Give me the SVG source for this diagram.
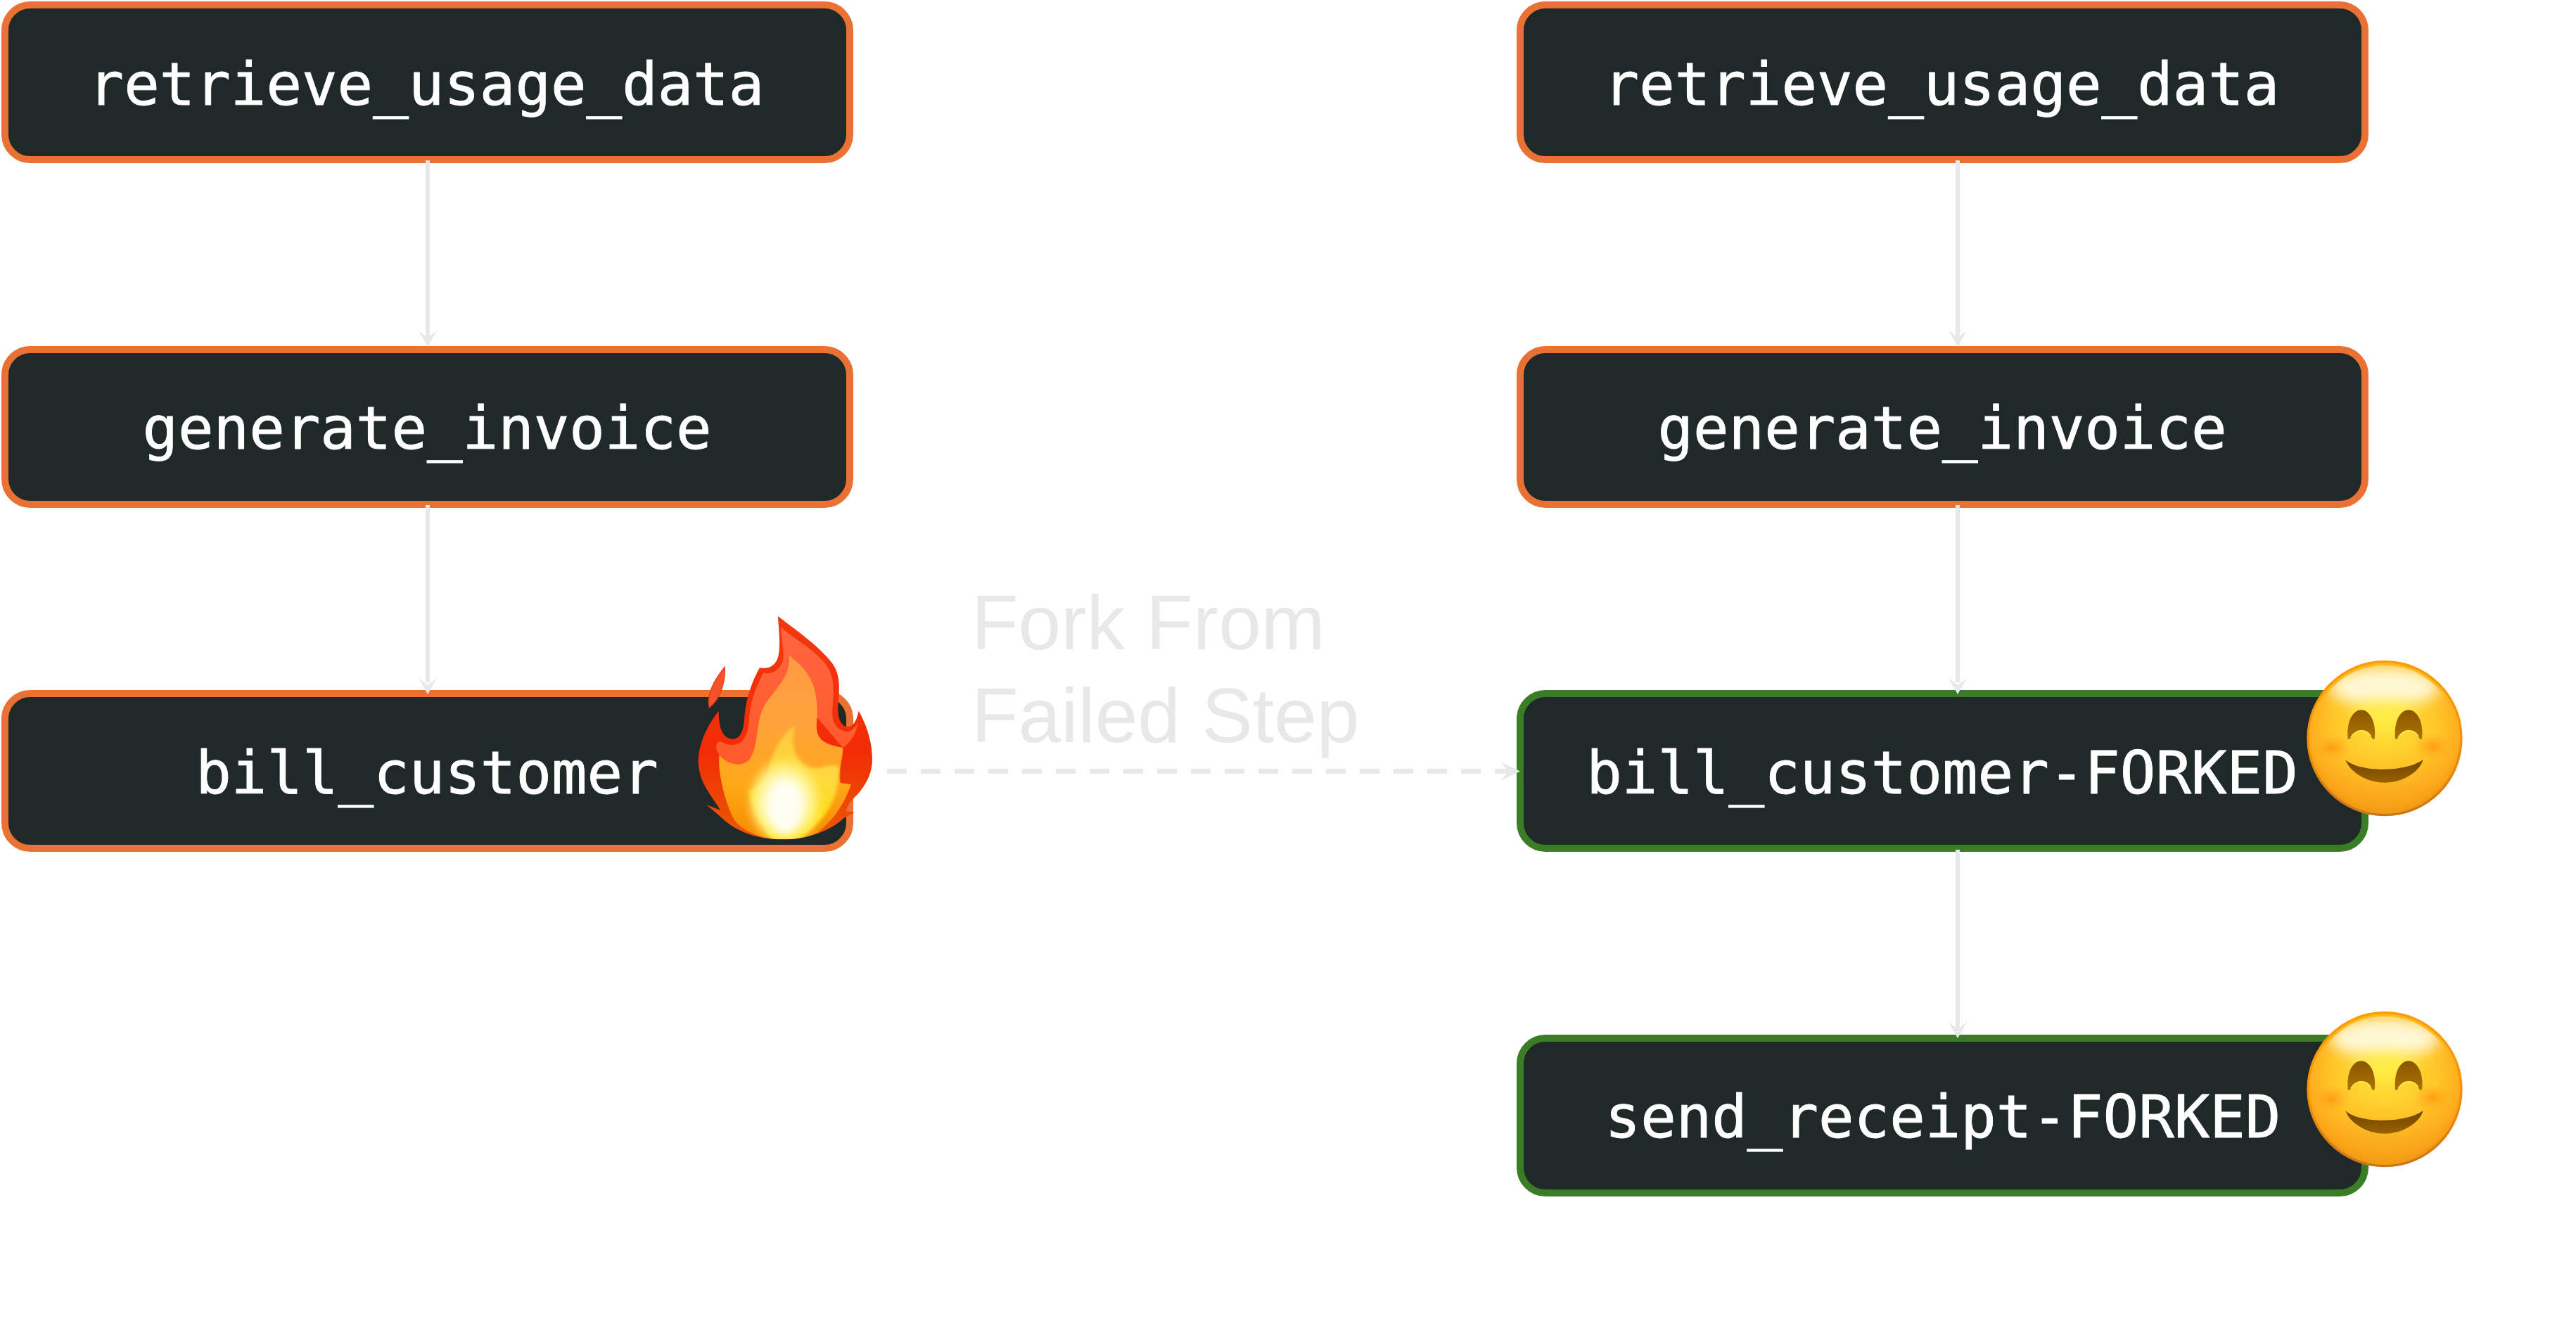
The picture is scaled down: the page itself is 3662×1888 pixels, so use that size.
<svg xmlns="http://www.w3.org/2000/svg" xmlns:xlink="http://www.w3.org/1999/xlink" width="3662" height="1888" viewBox="0 0 3662 1888">
<style>
.box{fill:#1f2928;stroke-width:10}
.orange{stroke:#e97133}
.green{stroke:#3a7d26}
.lbl{font-family:"DejaVu Sans Mono","Liberation Mono",monospace;font-size:84px;fill:#fff;stroke:#fff;stroke-width:0.9px;text-anchor:middle}
.fork{font-family:"Liberation Sans",Arial,sans-serif;font-size:109px;fill:#e8e8e8}
.conn{stroke:#e8e8e8;stroke-width:6;fill:none}
.dash{stroke-width:7;stroke-dasharray:28 20}
.head{fill:#e8e8e8}
</style>
<defs>
<path id="arrowDown" class="head" d="M0,0 L-13,-23 L0,-13 L13,-23 Z"/>
<filter id="blur4" x="-20%" y="-20%" width="140%" height="140%"><feGaussianBlur stdDeviation="6"/></filter>
<filter id="blur14" x="-40%" y="-40%" width="180%" height="180%"><feGaussianBlur stdDeviation="16"/></filter>
<filter id="blur30" x="-60%" y="-60%" width="220%" height="220%"><feGaussianBlur stdDeviation="30"/></filter>
<radialGradient id="faceG" cx="0.5" cy="0.42" r="0.56">
<stop offset="0" stop-color="#ffe038"/><stop offset="0.6" stop-color="#ffc828"/><stop offset="0.88" stop-color="#ffae1e"/><stop offset="0.97" stop-color="#f89a0c"/><stop offset="1" stop-color="#d9800e"/>
</radialGradient>
<linearGradient id="faceBottom" x1="0" y1="0" x2="0" y2="1">
<stop offset="0.55" stop-color="#ffb020" stop-opacity="0"/><stop offset="1" stop-color="#f5a018" stop-opacity="0.9"/>
</linearGradient>
<linearGradient id="rim" x1="0" y1="0" x2="0" y2="1">
<stop offset="0" stop-color="#ff9c00"/><stop offset="0.5" stop-color="#f59208"/><stop offset="1" stop-color="#c9741a"/>
</linearGradient>
<radialGradient id="cheek"><stop offset="0" stop-color="#ff9a10" stop-opacity="0.95"/><stop offset="1" stop-color="#ffb020" stop-opacity="0"/></radialGradient>
<linearGradient id="eyeG" x1="0" y1="0" x2="0" y2="1"><stop offset="0" stop-color="#8a5600"/><stop offset="1" stop-color="#ab7400"/></linearGradient>
<linearGradient id="mouthG" x1="0" y1="0" x2="0" y2="1"><stop offset="0" stop-color="#6e4400"/><stop offset="1" stop-color="#9a6200"/></linearGradient>
<clipPath id="faceClip"><circle cx="450" cy="389" r="312"/></clipPath>
<linearGradient id="flameRed" x1="0" y1="0" x2="0" y2="1">
<stop offset="0" stop-color="#f4380f"/><stop offset="0.6" stop-color="#f22c06"/><stop offset="1" stop-color="#ea5a04"/>
</linearGradient>
<linearGradient id="flameLight" x1="0" y1="0" x2="0" y2="1">
<stop offset="0" stop-color="#ff6540"/><stop offset="1" stop-color="#ff5a2a"/>
</linearGradient>
<linearGradient id="flameOrange" x1="0" y1="0" x2="0" y2="1">
<stop offset="0" stop-color="#ff9a42"/><stop offset="0.35" stop-color="#ffa23c"/><stop offset="0.7" stop-color="#ffa818"/><stop offset="1" stop-color="#f58a00"/>
</linearGradient>
<linearGradient id="flameYellow" x1="0" y1="0" x2="0" y2="1">
<stop offset="0" stop-color="#ffc83c"/><stop offset="0.45" stop-color="#ffd840"/><stop offset="1" stop-color="#ffe000"/>
</linearGradient>
<radialGradient id="flameCore">
<stop offset="0" stop-color="#fffef0"/><stop offset="0.5" stop-color="#fffbc8"/><stop offset="0.8" stop-color="#fff27a" stop-opacity="0.8"/><stop offset="1" stop-color="#ffe040" stop-opacity="0"/>
</radialGradient>
<path id="flameOuter" d="M468,48 C520,90 640,170 700,250 C735,300 730,350 725,420 C720,470 730,515 765,520 C790,520 805,490 812,452 C850,520 870,590 870,660 C870,730 830,790 785,830 C770,845 760,870 758,880 L795,885 L750,908 C690,965 590,1000 490,1000 C370,1000 280,960 225,905 L163,853 L222,875 C190,820 130,760 128,670 C128,590 170,510 215,452 C215,510 225,570 275,572 C310,572 322,530 325,480 C330,400 360,320 390,268 C420,275 460,265 470,215 C480,160 470,100 468,48 Z"/>
<clipPath id="flameClip"><use xlink:href="#flameOuter" href="#flameOuter"/></clipPath>
<g id="smile">
<circle cx="450" cy="389" r="332" fill="url(#rim)"/>
<circle cx="450" cy="389" r="322" fill="url(#faceG)"/>
<circle cx="450" cy="389" r="322" fill="url(#faceBottom)"/>
<g clip-path="url(#faceClip)">
<ellipse cx="450" cy="170" rx="235" ry="85" fill="#fff8d4" filter="url(#blur30)"/>
<ellipse cx="450" cy="290" rx="130" ry="60" fill="#fff04a" opacity="0.8" filter="url(#blur30)"/>
</g>
<ellipse cx="225" cy="430" rx="85" ry="60" fill="url(#cheek)"/>
<ellipse cx="655" cy="425" rx="85" ry="60" fill="url(#cheek)"/>
<path d="M293,390 C286,310 318,268 350,268 C386,268 416,320 407,390 C401,398 395,388 390,378 C375,350 330,345 308,380 C303,392 297,396 293,390 Z" fill="url(#eyeG)"/>
<path d="M495,390 C488,310 520,268 552,268 C588,268 618,320 609,390 C603,398 597,388 592,378 C577,350 532,345 510,380 C505,392 499,396 495,390 Z" fill="url(#eyeG)"/>
<path d="M306,384 C330,345 375,350 391,380" fill="none" stroke="#fff25a" stroke-width="4"/>
<path d="M508,384 C532,345 577,350 593,380" fill="none" stroke="#fff25a" stroke-width="4"/>
<path d="M283,480 C340,535 540,535 614,480 C600,530 530,578 450,578 C370,578 300,530 283,480 Z" fill="url(#mouthG)"/>
</g>
</defs>
<rect width="3662" height="1888" fill="#fff"/>

<g id="n1">
<rect class="box orange" x="7" y="7" width="1201" height="220" rx="36"/>
<text class="lbl" x="606" y="148.5">retrieve_usage_data</text>
</g>
<g id="n2">
<rect class="box orange" x="7" y="497" width="1201" height="220" rx="36"/>
<text class="lbl" x="607" y="638">generate_invoice</text>
</g>
<g id="n3">
<rect class="box orange" x="7" y="986" width="1201" height="220" rx="36"/>
<text class="lbl" x="607" y="1127.5">bill_customer</text>
</g>
<g id="n4">
<rect class="box orange" x="2161" y="7" width="1201" height="220" rx="36"/>
<text class="lbl" x="2760" y="148.5">retrieve_usage_data</text>
</g>
<g id="n5">
<rect class="box orange" x="2161" y="497" width="1201" height="220" rx="36"/>
<text class="lbl" x="2761" y="638">generate_invoice</text>
</g>
<g id="n6">
<rect class="box green" x="2161" y="986" width="1201" height="220" rx="36"/>
<text class="lbl" x="2761" y="1127.5">bill_customer-FORKED</text>
</g>
<g id="n7">
<rect class="box green" x="2161" y="1476" width="1201" height="220" rx="36"/>
<text class="lbl" x="2762" y="1617">send_receipt-FORKED</text>
</g>

<g id="connectors">
<path class="conn" d="M608,228 V480"/><use xlink:href="#arrowDown" href="#arrowDown" x="608" y="493"/>
<path class="conn" d="M608,718 V970"/><use xlink:href="#arrowDown" href="#arrowDown" x="608" y="987"/>
<path class="conn" d="M2783,228 V480"/><use xlink:href="#arrowDown" href="#arrowDown" x="2783" y="493"/>
<path class="conn" d="M2783,718 V970"/><use xlink:href="#arrowDown" href="#arrowDown" x="2783" y="987"/>
<path class="conn" d="M2783,1208 V1462"/><use xlink:href="#arrowDown" href="#arrowDown" x="2783" y="1476"/>
<path class="conn dash" d="M1261,1096.5 H2148"/>
<path class="head" d="M2161,1096.5 L2134,1083.5 L2144,1096.5 L2134,1109.5 Z"/>
</g>

<g id="fork-label">
<text class="fork" x="1381" y="923">Fork From</text>
<text class="fork" x="1381" y="1055">Failed Step</text>
</g>

<g id="fire" transform="translate(950,860) scale(0.3333)">
<path d="M240,265 C245,320 225,400 175,437 C165,380 190,330 240,265 Z" fill="#f5512a" stroke="#f03a14" stroke-width="4"/>
<use xlink:href="#flameOuter" href="#flameOuter" fill="url(#flameRed)"/>
<g clip-path="url(#flameClip)">
<path d="M480,95 C530,140 640,200 680,265 C712,320 705,380 700,440 C695,510 725,540 770,540 C785,535 800,520 810,500 C800,560 770,590 745,610 L635,480 L345,660 C310,695 250,680 218,640 C190,600 210,570 240,590 C290,610 340,590 345,490 C350,400 380,340 405,290 C450,300 490,270 492,210 Z" fill="url(#flameLight)"/>
<path d="M515,215 C600,280 640,340 635,480 C625,560 640,590 745,610 C745,660 720,720 735,760 L780,765 C750,850 710,910 640,970 C590,995 540,1000 490,1000 C400,1000 300,960 275,905 C235,820 210,700 218,640 C250,680 310,695 345,660 C390,600 370,500 410,430 C450,360 525,310 515,215 Z" fill="url(#flameOrange)"/>
<path d="M540,512 C470,570 440,640 430,700 C410,770 340,790 345,800 C360,880 400,950 445,1000 L555,1000 C640,940 730,860 728,690 C690,670 640,710 590,690 C530,650 525,580 540,512 Z" fill="url(#flameYellow)" filter="url(#blur4)"/>
<ellipse cx="497" cy="840" rx="165" ry="195" fill="url(#flameCore)" filter="url(#blur14)"/>
<ellipse cx="497" cy="860" rx="70" ry="110" fill="#fffef2" filter="url(#blur14)"/>
</g>
</g>

<use id="smile1" xlink:href="#smile" href="#smile" transform="translate(3240,920) scale(0.3333)"/>
<use id="smile2" xlink:href="#smile" href="#smile" transform="translate(3240,1419) scale(0.3333)"/>
</svg>
